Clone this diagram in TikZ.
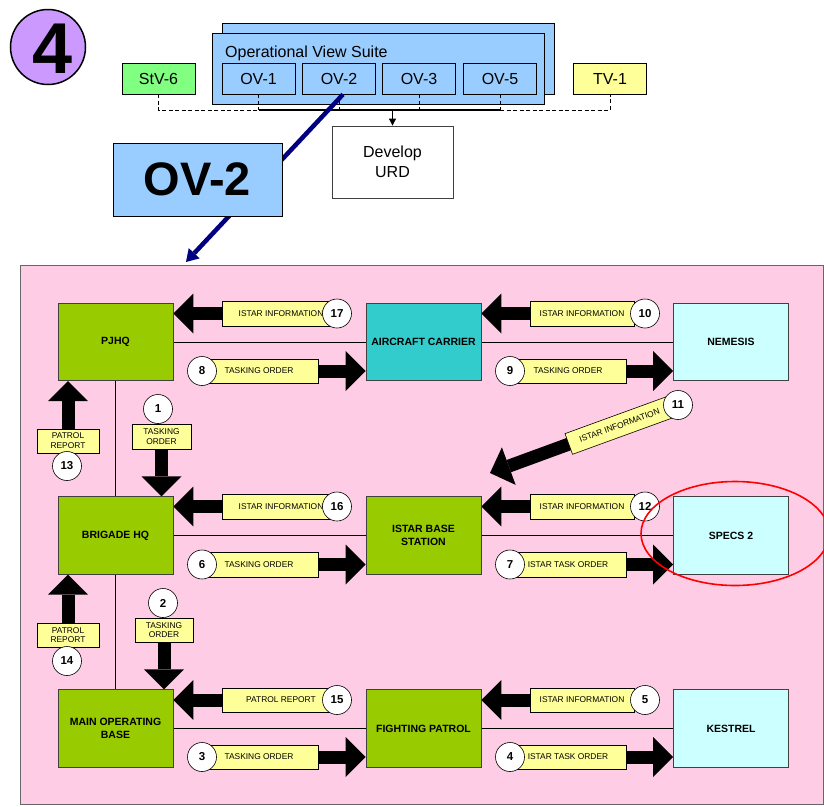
\documentclass[tikz,border=0pt]{standalone}
\usepackage{fontspec}
\setmainfont{Liberation Sans}
\usetikzlibrary{arrows.meta}
\definecolor{pinkbg}{RGB}{255,204,230}
\definecolor{ovblue}{RGB}{153,204,255}
\definecolor{hqgreen}{RGB}{153,204,0}
\definecolor{tealbox}{RGB}{51,204,204}
\definecolor{palecyan}{RGB}{204,255,255}
\definecolor{labyellow}{RGB}{255,255,153}
\definecolor{stvgreen}{RGB}{128,255,128}
\definecolor{lav}{RGB}{204,153,255}
\definecolor{navytwo}{RGB}{0,0,128}
\definecolor{edgegray}{RGB}{64,64,64}
\pgfdeclarelayer{bg}
\pgfsetlayers{bg,main}
\begin{document}
\begin{tikzpicture}[x=1pt,y=-1pt,
  unitbox/.style={draw=edgegray, line width=0.8pt, minimum width=115pt, minimum height=77.5pt, align=center, inner sep=0pt, font=\fontsize{10.5}{13}\selectfont\bfseries},
  lab/.style={draw, line width=0.6pt, fill=labyellow, minimum height=25pt, inner sep=0pt, align=center, font=\fontsize{8.4}{9.8}\selectfont},
  num/.style={circle, draw, line width=0.6pt, fill=white, minimum size=29pt, inner sep=0pt, font=\fontsize{11.5}{11.5}\selectfont\bfseries},
  fat/.style={line width=13pt, -{Triangle[length=20pt,width=40pt,line width=0pt]}},
  topbox/.style={draw, line width=0.8pt, minimum width=73pt, minimum height=31pt, inner sep=0pt, font=\fontsize{16}{16}\selectfont},
  busdash/.style={line width=0.8pt, dash pattern=on 4pt off 2.5pt}
]
\useasboundingbox (0,0) rectangle (824,806);

% ---------- top part ----------
\node[circle, draw, line width=1.5pt, fill=lav, minimum size=75pt, inner sep=0pt] (four) at (48,47) {};
\node[inner sep=0pt, font=\fontsize{72}{72}\selectfont\bfseries] (fourtext) at (53,49) {4};

\node[draw, line width=0.8pt, fill=ovblue, minimum width=332pt, minimum height=71pt, inner sep=0pt] (suiteback) at (388,58.5) {};
\node[draw, line width=0.8pt, fill=ovblue, minimum width=332pt, minimum height=71pt, inner sep=0pt] (suite) at (378,68.5) {};
\node[anchor=base west, inner sep=0pt, font=\fontsize{16}{16}\selectfont] (suitetitle) at (225,57) {Operational View Suite};

\node[topbox, fill=stvgreen] (stv) at (158.5,78.5) {StV-6};
\node[topbox, fill=ovblue] (ov1) at (258.5,78.5) {OV-1};
\node[topbox, fill=ovblue] (ov2) at (339,78.5) {OV-2};
\node[topbox, fill=ovblue] (ov3) at (419,78.5) {OV-3};
\node[topbox, fill=ovblue] (ov5) at (500,78.5) {OV-5};
\node[topbox, fill=labyellow] (tv1) at (610,78.5) {TV-1};

\node[draw=edgegray, line width=0.8pt, fill=white, minimum width=121pt, minimum height=72pt, align=center, font=\fontsize{16}{19.5}\selectfont] (urd) at (392.5,162) {Develop\\URD};

\coordinate (bus) at (0,110);
\draw[busdash] (stv.south) -- (stv.south |- bus) -- (ov1.south |- bus);
\draw[line width=1.2pt] (ov1.south |- bus) -- (ov5.south |- bus);
\draw[busdash] (ov5.south |- bus) -- (tv1.south |- bus) -- (tv1.south);
\foreach \n in {ov1,ov2,ov3,ov5} \draw[busdash] (\n.south) -- (\n.south |- bus);
\draw[line width=0.8pt, -{Triangle[length=7pt,width=7pt]}] (urd.north |- bus) -- (urd.north);

\coordinate (ovtip) at (186,262);
\draw[navytwo, line width=4.5pt, -{Triangle[length=12pt,width=15pt,line width=0pt]}] ([xshift=4pt]ov2.south) -- (ovtip);

\node[draw, line width=0.8pt, fill=ovblue, minimum width=169pt, minimum height=73pt, inner sep=0pt, font=\fontsize{47}{47}\selectfont\bfseries] (ovbig) at (197.5,179.5) {OV-2};

% ---------- main diagram ----------
\node[unitbox, fill=hqgreen] (pjhq) at (115.5,342) {PJHQ};
\node[unitbox, fill=tealbox] (ac) at (423.5,342) {AIRCRAFT CARRIER};
\node[unitbox, fill=palecyan] (nem) at (731,342) {NEMESIS};
\node[unitbox, fill=hqgreen] (bhq) at (115.5,535.5) {BRIGADE HQ};
\node[unitbox, fill=hqgreen] (isb) at (423.5,535.5) {ISTAR BASE\\STATION};
\node[unitbox, fill=palecyan] (specs) at (731,535.5) {SPECS 2};
\node[unitbox, fill=hqgreen] (mob) at (115.5,728.5) {MAIN OPERATING\\BASE};
\node[unitbox, fill=hqgreen] (fp) at (423.5,728.5) {FIGHTING PATROL};
\node[unitbox, fill=palecyan] (kes) at (731,728.5) {KESTREL};

% labels
\node[lab, minimum width=118pt] (l17) at (281,313.5) {ISTAR INFORMATION};
\node[lab, minimum width=118pt, minimum height=24pt] (l8) at (259,371) {TASKING ORDER};
\node[lab, minimum width=104pt] (l10) at (582,313.5) {ISTAR INFORMATION};
\node[lab, minimum width=116pt, minimum height=24pt] (l9) at (568,371) {TASKING ORDER};
\node[lab, minimum width=118pt] (l16) at (281,506.5) {ISTAR INFORMATION};
\node[lab, minimum width=118pt] (l6) at (259,564.5) {TASKING ORDER};
\node[lab, minimum width=104pt] (l12) at (582,506.5) {ISTAR INFORMATION};
\node[lab, minimum width=116pt] (l7) at (568,564.5) {ISTAR TASK ORDER};
\node[lab, minimum width=118pt, minimum height=24pt] (l15) at (281,700) {PATROL REPORT};
\node[lab, minimum width=118pt, minimum height=24pt] (l3) at (259,757) {TASKING ORDER};
\node[lab, minimum width=104pt, minimum height=24pt] (l5) at (582,700) {ISTAR INFORMATION};
\node[lab, minimum width=116pt, minimum height=24pt] (l4) at (568,757) {ISTAR TASK ORDER};
\node[lab, minimum width=62pt, minimum height=24pt] (l13) at (68,441) {PATROL\\REPORT};
\node[lab, minimum width=62pt, minimum height=24pt] (l14) at (68,635) {PATROL\\REPORT};
\node[lab, minimum width=59pt] (l1) at (161.5,436.5) {TASKING\\ORDER};
\node[lab, minimum width=58pt, minimum height=24pt] (l2) at (164,630) {TASKING\\ORDER};
\node[lab, minimum width=108pt, minimum height=22pt, rotate=20] (l11) at (619.5,425.5) {ISTAR INFORMATION};

% number circles
\node[num] (n17) at (337,313.5) {17};
\node[num] (n8) at (202,371) {8};
\node[num] (n10) at (645,313.5) {10};
\node[num] (n9) at (510,371) {9};
\node[num] (n16) at (337,506.5) {16};
\node[num] (n6) at (202,564.5) {6};
\node[num] (n12) at (645,506.5) {12};
\node[num] (n7) at (510,564.5) {7};
\node[num] (n15) at (337,700) {15};
\node[num] (n3) at (202,757) {3};
\node[num] (n5) at (645,700) {5};
\node[num] (n4) at (510,757) {4};
\node[num] (n1) at (158,409) {1};
\node[num] (n2) at (163,603) {2};
\node[num] (n13) at (67,466) {13};
\node[num] (n14) at (67,661) {14};
\node[num] (n11) at (678,405) {11};

\coordinate (t11) at (490,473);

\begin{pgfonlayer}{bg}
\draw[draw=gray!80!black, fill=pinkbg, line width=0.8pt] (20,265) rectangle (823,804);
\draw[line width=0.7pt] (pjhq) -- (ac) -- (nem);
\draw[line width=0.7pt] (bhq) -- (isb) -- (specs);
\draw[line width=0.7pt] (mob) -- (fp) -- (kes);
\draw[line width=0.7pt] (pjhq) -- (bhq) -- (mob);
% horizontal fat arrows
\draw[fat] (l17.center) -- (l17.center -| pjhq.east);
\draw[fat] (l8.center) -- (l8.center -| ac.west);
\draw[fat] (l10.center) -- (l10.center -| ac.east);
\draw[fat] (l9.center) -- (l9.center -| nem.west);
\draw[fat] (l16.center) -- (l16.center -| bhq.east);
\draw[fat] (l6.center) -- (l6.center -| isb.west);
\draw[fat] (l12.center) -- (l12.center -| isb.east);
\draw[fat] (l7.center) -- (l7.center -| specs.west);
\draw[fat] (l15.center) -- (l15.center -| mob.east);
\draw[fat] (l3.center) -- (l3.center -| fp.west);
\draw[fat] (l5.center) -- (l5.center -| fp.east);
\draw[fat] (l4.center) -- (l4.center -| kes.west);
% vertical fat arrows
\draw[fat] (l13.center) -- (l13.center |- pjhq.south);
\draw[fat] (l14.center) -- (l14.center |- bhq.south);
\draw[fat] (l1.center) -- (l1.center |- bhq.north);
\draw[fat] (l2.center) -- (l2.center |- mob.north);
% diagonal
\draw[fat] (l11.center) -- (t11);
\end{pgfonlayer}

\draw[red, line width=1.6pt] (735,533.5) ellipse [x radius=94pt, y radius=52pt];
\end{tikzpicture}
\end{document}
